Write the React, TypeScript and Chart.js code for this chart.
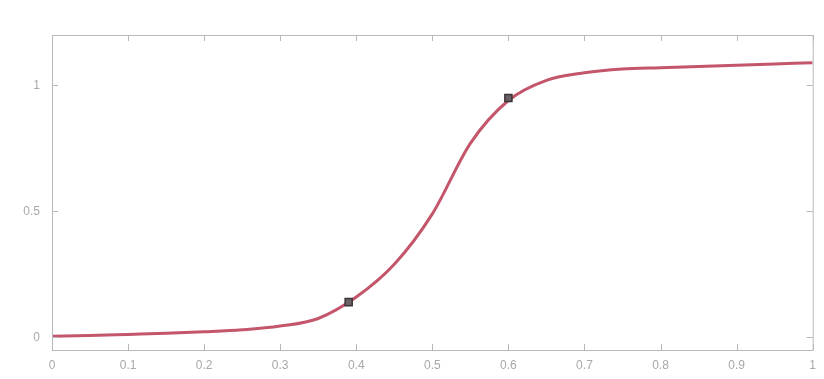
import React, { useEffect, useRef } from "react";
import { Chart, registerables } from "chart.js";

Chart.register(...registerables);

const xValues = [0, 0.05, 0.1, 0.15, 0.2, 0.25, 0.3, 0.35, 0.4, 0.45, 0.5, 0.55, 0.6, 0.65, 0.7, 0.75, 0.8, 0.85, 0.9, 0.95, 1];
const yValues = [0.005, 0.008, 0.012, 0.016, 0.022, 0.03, 0.045, 0.075, 0.16, 0.29, 0.49, 0.77, 0.94, 1.02, 1.05, 1.065, 1.07, 1.075, 1.08, 1.085, 1.09];
const markerX = [0.39, 0.6];
const markerY = [0.14, 0.95];
const xTicks = [0, 0.1, 0.2, 0.3, 0.4, 0.5, 0.6, 0.7, 0.8, 0.9, 1];
const yTicks = [0, 0.5, 1];

const boxPlugin = {
  id: "boxTicks",
  afterDatasetsDraw(chart: any) {
    const { ctx, chartArea } = chart;
    const xs = chart.scales.x;
    const ys = chart.scales.y;
    ctx.save();
    ctx.strokeStyle = "#b8b8b8";
    ctx.lineWidth = 1;
    ctx.strokeRect(chartArea.left + 0.5, chartArea.top + 0.5, chartArea.right - chartArea.left, chartArea.bottom - chartArea.top);
    ctx.beginPath();
    for (const t of xTicks) {
      const p = Math.round(xs.getPixelForValue(t)) + 0.5;
      ctx.moveTo(p, chartArea.bottom);
      ctx.lineTo(p, chartArea.bottom - 6);
      ctx.moveTo(p, chartArea.top);
      ctx.lineTo(p, chartArea.top + 6);
    }
    for (const t of yTicks) {
      const p = Math.round(ys.getPixelForValue(t)) + 0.5;
      ctx.moveTo(chartArea.left, p);
      ctx.lineTo(chartArea.left + 6, p);
      ctx.moveTo(chartArea.right, p);
      ctx.lineTo(chartArea.right - 6, p);
    }
    ctx.stroke();
    ctx.restore();
  },
};

export default function App() {
  const ref = useRef<HTMLCanvasElement>(null);
  useEffect(() => {
    const chart = new Chart(ref.current!, {
      type: "line",
      data: {
        datasets: [
          {
            data: markerX.map((x, i) => ({ x, y: markerY[i] })),
            showLine: false,
            pointStyle: "rect",
            pointRadius: 5,
            backgroundColor: "#6a6266",
            borderColor: "#3a3436",
            borderWidth: 1.5,
            order: 0,
          },
          {
            data: xValues.map((x, i) => ({ x, y: yValues[i] })),
            borderColor: "#c4566c",
            borderWidth: 3,
            pointRadius: 0,
            cubicInterpolationMode: "monotone",
            fill: false,
            order: 1,
          },
        ],
      },
      options: {
        animation: false,
        responsive: true,
        maintainAspectRatio: false,
        layout: { padding: { top: 35, right: 9, left: 0, bottom: 0 } },
        plugins: { legend: { display: false }, tooltip: { enabled: false } },
        scales: {
          x: {
            type: "linear",
            min: 0,
            max: 1,
            afterBuildTicks: (s: any) => { s.ticks = xTicks.map((v) => ({ value: v })); },
            afterFit: (s: any) => { s.height = 29; },
            grid: { display: false, drawTicks: false },
            border: { display: false },
            ticks: {
              color: "#a8a8a8",
              font: { family: "Liberation Sans", size: 12 },
              padding: 8,
              maxRotation: 0,
              callback: (v: any) => String(v),
            },
          },
          y: {
            min: -0.05,
            max: 1.2,
            afterBuildTicks: (s: any) => { s.ticks = yTicks.map((v) => ({ value: v })); },
            afterFit: (s: any) => { s.width = 52; },
            grid: { display: false, drawTicks: false },
            border: { display: false },
            ticks: {
              color: "#a8a8a8",
              font: { family: "Liberation Sans", size: 12 },
              padding: 12,
              callback: (v: any) => String(v),
            },
          },
        },
      },
      plugins: [boxPlugin],
    } as any);
    return () => chart.destroy();
  }, []);
  return (
    <div style={{ position: "fixed", left: 0, top: 0, width: 824, height: 379, background: "#fff" }}>
      <canvas ref={ref} />
    </div>
  );
}
